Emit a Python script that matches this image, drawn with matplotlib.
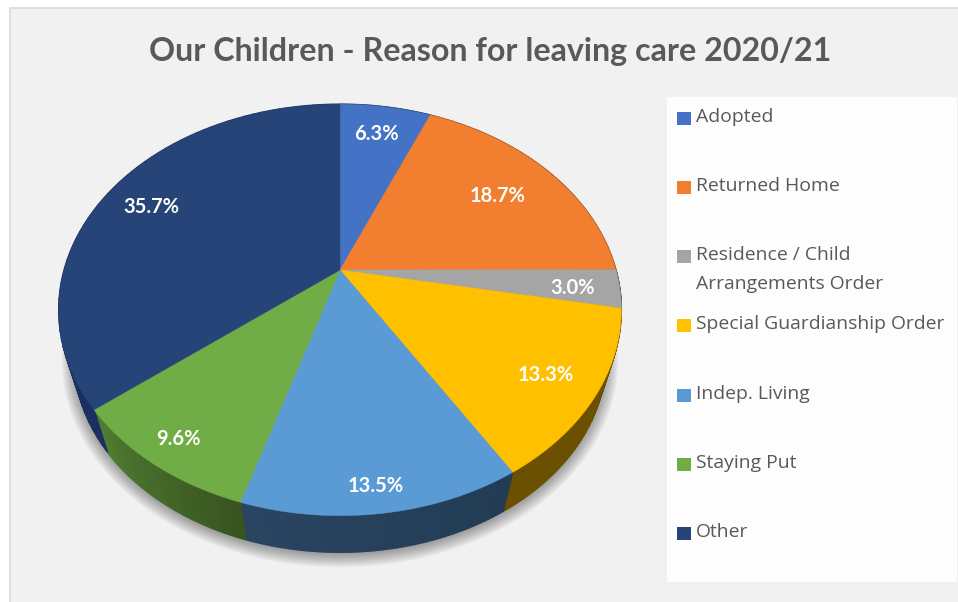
import numpy as np
import matplotlib.pyplot as plt
from matplotlib.colors import to_rgb
from matplotlib.patches import Rectangle, Ellipse, Polygon

title = 'Our Children - Reason for leaving care 2020/21'
categories = ['Adopted', 'Returned Home', 'Residence / Child\nArrangements Order',
              'Special Guardianship Order', 'Indep. Living', 'Staying Put', 'Other']
values = [6.3, 18.7, 3.0, 13.3, 13.5, 9.6, 35.7]
colors = ['#4472c4', '#f27f30', '#a5a5a5', '#ffc000', '#5b9bd5', '#70ad47', '#264478']

# side wall shading, left end to right end of each slice
wall_left = ['#22395f', '#774017', '#555555', '#6a5000', '#2a4562', '#4f7d32', '#1d3566']
wall_right = ['#22395f', '#774017', '#555555', '#6a5000', '#233c54', '#38531f', '#1b3060']

# how far out each percentage sits along its slice
label_radius = [0.82, 0.75, 0.84, 0.83, 0.90, 0.88, 0.80]
legend_y = [116, 185, 254, 323, 393, 462, 531]

# perspective of the tilted disc, in pixels
apex_x, apex_y = 340, 270
width_scale, height_scale, tilt = 276, 198, 0.194
# the underside is the top face shrunk a little and moved down
wall_shrink, wall_drop = 0.945, 65


def project(r, theta):
    x = r * np.sin(theta)
    y = r * np.cos(theta)
    d = 1 + tilt * y
    return apex_x + width_scale * x / d, apex_y - height_scale * y / d


def lower(px, py):
    return apex_x + (px - apex_x) * wall_shrink, wall_drop + py * wall_shrink


fig = plt.figure(figsize=(9.58, 6.02), dpi=100, facecolor='white')
ax = fig.add_axes([0, 0, 1, 1])
ax.set_xlim(0, 958)
ax.set_ylim(602, 0)
ax.axis('off')

# chart background and legend panel
ax.add_patch(Rectangle((10, 8), 960, 610, facecolor='#f1f1f1', edgecolor='#d9d9d9', linewidth=1.2))
ax.add_patch(Rectangle((667, 97), 290, 485, facecolor='#fdfdfd', edgecolor='none'))

ax.text(490, 51, title, fontsize=23.2, fontweight='bold', family='Lato',
        color='#595959', ha='center', va='center')

# soft shadow under the disc
for i in range(12):
    ax.add_patch(Ellipse((340, 360), 2 * (264 + i * 1.3), 2 * (193 + i * 1.3),
                         facecolor='black', edgecolor='none', alpha=0.035, zorder=1))

edges = np.cumsum([0] + values) / sum(values) * 2 * np.pi

# side walls first, split into strips for the shading
for k in range(len(values)):
    thetas = np.linspace(edges[k], edges[k + 1], 60)
    c0 = np.array(to_rgb(wall_left[k]))
    c1 = np.array(to_rgb(wall_right[k]))
    for j in range(len(thetas) - 1):
        x0, y0 = project(1, thetas[j])
        x1, y1 = project(1, thetas[j + 1])
        x2, y2 = lower(x1, y1)
        x3, y3 = lower(x0, y0)
        # walls run clockwise, so the left end of the slice is the far end of the sweep
        t = 1 - j / (len(thetas) - 2)
        ax.add_patch(Polygon([(x0, y0), (x1, y1), (x2, y2), (x3, y3)],
                             facecolor=c0 + (c1 - c0) * t, edgecolor=c0 + (c1 - c0) * t,
                             linewidth=1.0, zorder=2))

# top face
for k in range(len(values)):
    thetas = np.linspace(edges[k], edges[k + 1], 120)
    px, py = project(1, thetas)
    pts = [(apex_x, apex_y)] + list(zip(px, py))
    ax.add_patch(Polygon(pts, facecolor=colors[k], edgecolor=colors[k], linewidth=0.3, zorder=3))

# percentage labels
for k in range(len(values)):
    mid = (edges[k] + edges[k + 1]) / 2
    lx, ly = project(label_radius[k], mid)
    ax.text(lx - 2, ly + 2, f'{values[k]:.1f}%', fontsize=14.5, fontweight='bold', family='Lato',
            color='white', ha='center', va='center', zorder=4)

# legend
for k in range(len(categories)):
    ax.add_patch(Rectangle((677, legend_y[k] - 4), 14, 13, facecolor=colors[k], edgecolor='none'))
    ax.text(696, legend_y[k] - 8, categories[k], fontsize=13.95, family='Open Sans',
            color='#595959', ha='left', va='top', linespacing=1.78)

plt.savefig('out.png', dpi=100)
